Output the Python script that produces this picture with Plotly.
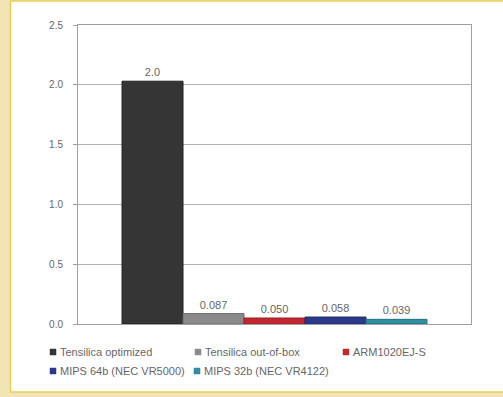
import plotly.graph_objects as go

# Relative performance per processor configuration
series_names = [
    "Tensilica optimized",
    "Tensilica out-of-box",
    "ARM1020EJ-S",
    "MIPS 64b (NEC VR5000)",
    "MIPS 32b (NEC VR4122)",
]
series_values = [2.03, 0.087, 0.050, 0.058, 0.039]
value_labels = ["2.0", "0.087", "0.050", "0.058", "0.039"]
series_colors = ["#353535", "#8a8a8a", "#c4262f", "#2c3889", "#2f8ea1"]
line_colors = ["#222222", "#6a6a6a", "#9a1c24", "#1e2866", "#226f7e"]
category = [""]

y_ticks = [0.0, 0.5, 1.0, 1.5, 2.0, 2.5]
y_tick_text = ["0.0", "0.5", "1.0", "1.5", "2.0", "2.5"]

# legend grid (pixel positions of each key square: left edge, row centre)
legend_slots = [(50, 352), (195, 352), (343, 352), (50, 371), (194, 371)]

W, H = 503, 397
L, R, T, B = 78, 32, 25, 73
pw, ph = W - L - R, H - T - B


def px_x(p):
    return (p - L) / pw


def px_y(p):
    return 1 - (p - T) / ph


fig = go.Figure()
for name, val, lab, col, lcol in zip(series_names, series_values, value_labels,
                                     series_colors, line_colors):
    fig.add_trace(go.Bar(
        x=category,
        y=[val],
        name=name,
        marker=dict(color=col, line=dict(color=lcol, width=1)),
        text=[lab],
        textposition="outside",
        textfont=dict(size=11, color="#666666"),
        cliponaxis=False,
        showlegend=False,
    ))

shapes = [
    # white panel with a thin golden frame
    dict(
        type="rect", xref="paper", yref="paper",
        x0=px_x(10.5), x1=px_x(520), y0=px_y(392), y1=px_y(1),
        fillcolor="#ffffff",
        line=dict(color="#e6cf55", width=1.5),
        layer="below",
    ),
]
annotations = []
sq = 6
for (sx, sy), name, col in zip(legend_slots, series_names, series_colors):
    shapes.append(dict(
        type="rect", xref="paper", yref="paper",
        x0=px_x(sx), x1=px_x(sx + sq),
        y0=px_y(sy + sq / 2), y1=px_y(sy - sq / 2),
        fillcolor=col, line=dict(color=col, width=0.5),
    ))
    annotations.append(dict(
        xref="paper", yref="paper",
        x=px_x(sx + sq + 2), y=px_y(sy),
        xanchor="left", yanchor="middle",
        text=name, showarrow=False,
        font=dict(size=11, color="#666666"),
    ))

fig.update_layout(
    width=W,
    height=H,
    margin=dict(l=L, r=R, t=T, b=B),
    paper_bgcolor="#f3e4b6",
    plot_bgcolor="rgba(0,0,0,0)",
    font=dict(family="Liberation Sans, Arial, sans-serif", size=10, color="#666666"),
    barmode="group",
    bargap=0.224,
    bargroupgap=0,
    showlegend=False,
    xaxis=dict(
        showticklabels=False,
        showgrid=False,
        showline=True,
        linecolor="#a0a0a0",
        linewidth=1,
        mirror=True,
        ticks="",
        zeroline=False,
        fixedrange=True,
    ),
    yaxis=dict(
        range=[0, 2.5],
        tickvals=y_ticks,
        ticktext=y_tick_text,
        showgrid=True,
        gridcolor="#b0b0b0",
        gridwidth=1,
        showline=True,
        linecolor="#a0a0a0",
        linewidth=1,
        mirror=True,
        ticks="outside",
        ticklen=4,
        tickcolor="#a0a0a0",
        ticklabelstandoff=8,
        tickfont=dict(size=10, color="#666666"),
        zeroline=False,
        fixedrange=True,
    ),
    shapes=shapes,
    annotations=annotations,
)

fig.write_html("out.html")
